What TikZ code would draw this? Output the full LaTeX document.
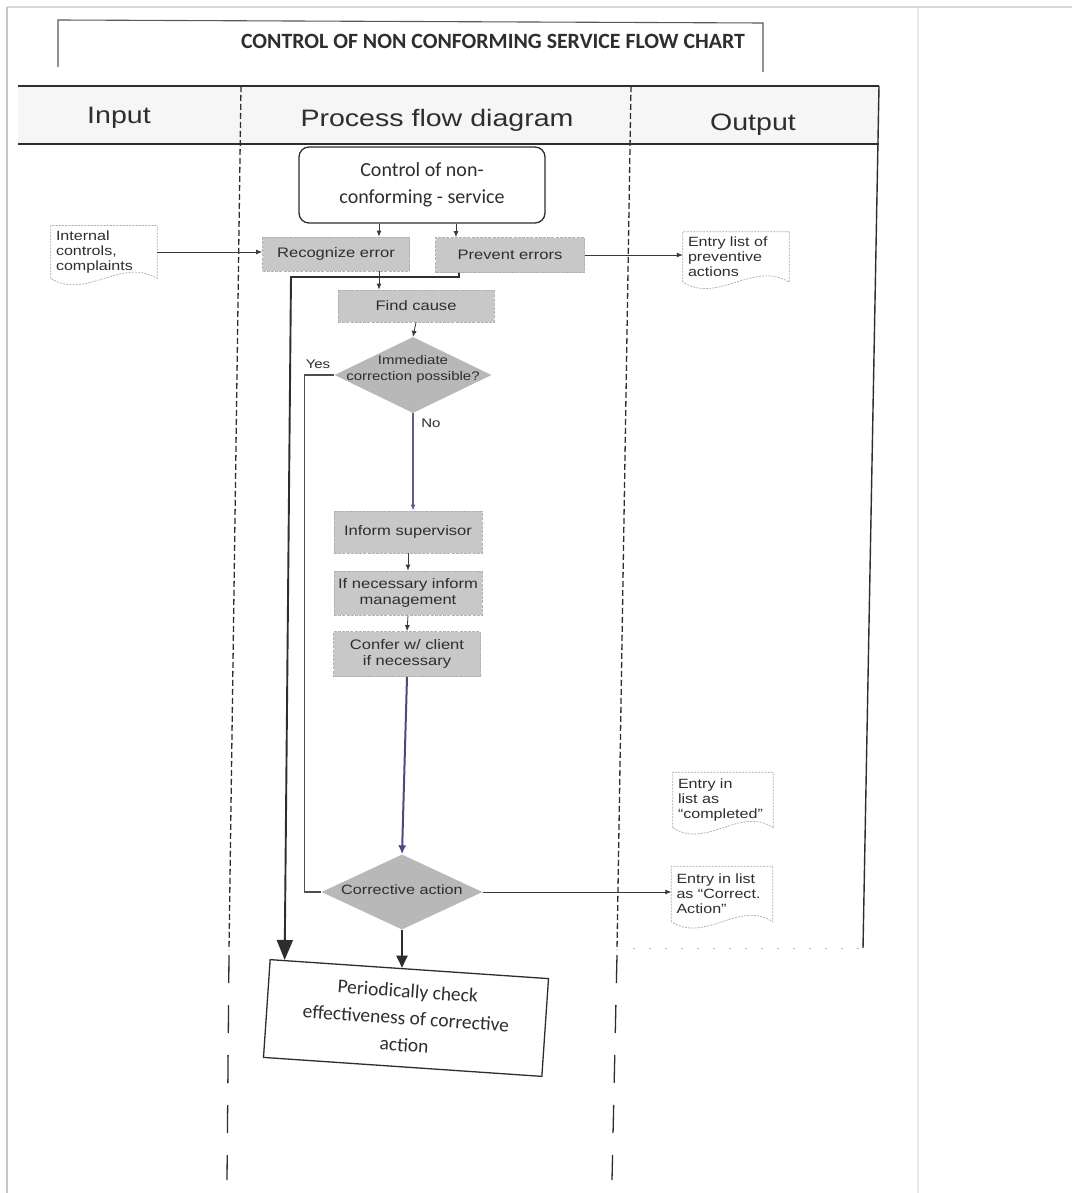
\documentclass[tikz,border=0pt]{standalone}
\usepackage{fontspec}
\usetikzlibrary{shapes.geometric,arrows.meta,calc}
\setmainfont{Liberation Sans}[FakeStretch=1.2]
\newfontfamily\calfont{Carlito}
\definecolor{boxgray}{HTML}{C8C8C8}
\definecolor{diagray}{HTML}{B8B8B8}
\definecolor{inkc}{HTML}{2E2E2E}
\definecolor{noline}{HTML}{5E5E8C}
\definecolor{purpline}{HTML}{4A4A7E}
\tikzset{
  procbox/.style={rectangle, fill=boxgray, draw=gray!60, dash pattern=on 3pt off 1.2pt, line width=0.8pt,
    text=inkc, font=\fontsize{13.8}{16}\selectfont, align=center, inner sep=0pt},
  docnode/.style={rectangle, inner sep=5pt, align=left, text=inkc, font=\fontsize{13.4}{15}\selectfont},
  docline/.style={draw=gray!65, line width=0.7pt, dash pattern=on 2pt off 1.2pt},
  dia/.style={diamond, fill=diagray, draw=none, inner sep=0pt},
  diatext/.style={align=center, text=inkc, inner sep=0pt},
  hdr/.style={anchor=base, text=inkc, font=\fontsize{23.8}{26}\selectfont, inner sep=0pt},
  small/.style={text=inkc, font=\fontsize{12.5}{14}\selectfont, inner sep=0pt},
  arr/.style={draw=gray!45!black, line width=0.8pt, -{Latex[length=6pt,width=5pt]}},
  noarr/.style={draw=noline, line width=1.3pt, -{Latex[length=6pt,width=5pt]}},
  purparr/.style={draw=purpline, line width=2pt, -{Latex[length=9pt,width=8pt]}},
  yesline/.style={draw=inkc!85, line width=1.3pt},
  thickarr/.style={draw=inkc, line width=1.9pt, -{Triangle[length=20pt,width=16pt]}},
  thickarrb/.style={draw=inkc, line width=1.9pt, -{Triangle[length=12pt,width=11pt]}},
  lane/.style={draw=inkc, line width=1.3pt, dash pattern=on 6pt off 3pt},
  lanesparse/.style={draw=inkc, line width=1.3pt, dash pattern=on 28pt off 22pt},
}
\newcommand\docshape[1]{%
  \draw[docline] (#1.south west) -- (#1.north west) -- (#1.north east) -- (#1.south east)
    .. controls ($(#1.south east)!0.33!(#1.south west)+(0,-22)$) and ($(#1.south east)!0.67!(#1.south west)+(0,22)$) .. (#1.south west);}
\begin{document}
\begin{tikzpicture}[x=1pt,y=-1pt]
\useasboundingbox[fill=white] (0,0) rectangle (1072,1193);
% page edges of the scan
\draw[gray!30, line width=2.5pt] (7,7) -- (1072,7);
\draw[gray!45, line width=2pt] (7,7) -- (7,1193);
\draw[gray!18, line width=1.5pt] (918,8) -- (918,1193);

% title bracket
\draw[inkc!80, line width=1.1pt] (58,67) -- (58,20) -- (763,23) -- (763,72);
\node[text=inkc, font=\calfont\bfseries\fontsize{21.8}{24}\selectfont] (title) at (493,41) {CONTROL OF NON CONFORMING SERVICE FLOW CHART};

% header band
\fill[gray!7] (18,86) rectangle (879,144);
\draw[inkc, line width=2pt] (18,86) -- (879,86);
\draw[inkc, line width=2pt] (18,144) -- (879,144);
\draw[inkc, line width=1.4pt] (879,86) -- (863,948);
\draw[gray!60, line width=1pt, dash pattern=on 2pt off 14pt] (633,948) -- (863,948);
\node[hdr] (hin) at (119,124) {Input};
\node[hdr] (hproc) at (437,127) {Process flow diagram};
\node[hdr] (hout) at (753,131) {Output};

% lane separators
\draw[lane] (241,86) -- (229,950);
\draw[lanesparse] (229,955) -- (227,1180);
\draw[lane] (631,86) -- (617,950);
\draw[lanesparse] (617,955) -- (612,1180);

% nodes
\node[rectangle, rounded corners=10pt, draw=inkc, line width=1.3pt, fill=white, minimum width=246pt, minimum height=76pt,
  align=center, text=inkc, font=\calfont\fontsize{20}{27}\selectfont] (start) at (422,185) {Control of non-\\conforming - service};
\node[procbox, minimum width=147pt, minimum height=34pt] (rec) at (336,254) {Recognize error};
\node[procbox, minimum width=149pt, minimum height=35pt] (prev) at (510,255) {Prevent errors};
\node[procbox, minimum width=156pt, minimum height=32pt] (find) at (416,306) {Find cause};
\node[dia, minimum width=157pt, minimum height=76pt] (d1) at (413,375) {};
\node[diatext, font=\fontsize{12.5}{16}\selectfont] (d1t) at (413,369) {Immediate\\correction possible?};
\node[procbox, minimum width=148pt, minimum height=42pt] (inf) at (408,532) {Inform supervisor};
\node[procbox, minimum width=148pt, minimum height=44pt] (ifn) at (408,593) {If necessary inform\\management};
\node[procbox, minimum width=147pt, minimum height=45pt] (conf) at (407,654) {Confer w/ client\\if necessary};
\node[dia, minimum width=161pt, minimum height=75pt] (d2) at (402,892) {};
\node[diatext, font=\fontsize{13.5}{16}\selectfont] (d2t) at (402,890) {Corrective action};
\node[rectangle, draw=inkc, line width=1.3pt, fill=white, minimum width=279pt, minimum height=98pt, rotate=-3.9,
  align=center, text=inkc, font=\calfont\fontsize{19.5}{27}\selectfont] (per) at (406,1018) {Periodically check\\effectiveness of corrective\\action};

% documents
\node[docnode, text width=96pt, minimum height=50pt] (int) at (104,252) {Internal\\controls,\\complaints};
\node[docnode, text width=96pt, minimum height=50pt] (ep) at (736,257) {Entry list of\\preventive\\actions};
\node[docnode, text width=90pt, minimum height=55pt] (ecm) at (723,800) {Entry in\\list as\\“completed”};
\node[docnode, text width=91pt, minimum height=55pt] (ec) at (722,894) {Entry in list\\as “Correct.\\Action”};
\docshape{int}
\docshape{ep}
\docshape{ecm}
\docshape{ec}

% labels
\node[small] (yes) at (318,364) {Yes};
\node[small] (no) at (431,423) {No};

% connectors
\coordinate (ra) at ([xshift=43pt]rec.north);
\coordinate (pa) at ([xshift=-54pt]prev.north);
\draw[arr] (ra |- start.south) -- (ra);
\draw[arr] (pa |- start.south) -- (pa);
\draw[arr] (int.east) -- (int.east -| rec.west);
\draw[arr] (prev.east) -- (prev.east -| ep.west);
\coordinate (rb) at ([xshift=43pt]rec.south);
\draw[arr] (rb) -- (rb |- find.north);
\draw[arr] (find.south) -- (d1.north);
\draw[noarr] (d1.south) -- (d1.south |- inf.north);
\draw[arr] (inf.south) -- (ifn.north);
\draw[arr] (ifn.south) -- (conf.north);
\draw[purparr] (conf.south) -- (d2.north);
\draw[arr] (d2.east) -- (d2.east -| ec.west);
\draw[yesline] (d1.west) -- ++(-30,0) coordinate (ya) -- (ya |- d2.west) -- (d2.west);
\coordinate (pb) at ([xshift=-51pt]prev.south);
\coordinate (tk) at (291,277);
\coordinate (pA) at ($(per.north west)!0.054!(per.north east)$);
\coordinate (pB) at ($(per.north west)!0.46!(per.north east)$);
\draw[thickarr] (pb) |- (tk) -- (pA);
\draw[thickarrb] (d2.south) -- (d2.south |- pB);
\end{tikzpicture}
\end{document}
